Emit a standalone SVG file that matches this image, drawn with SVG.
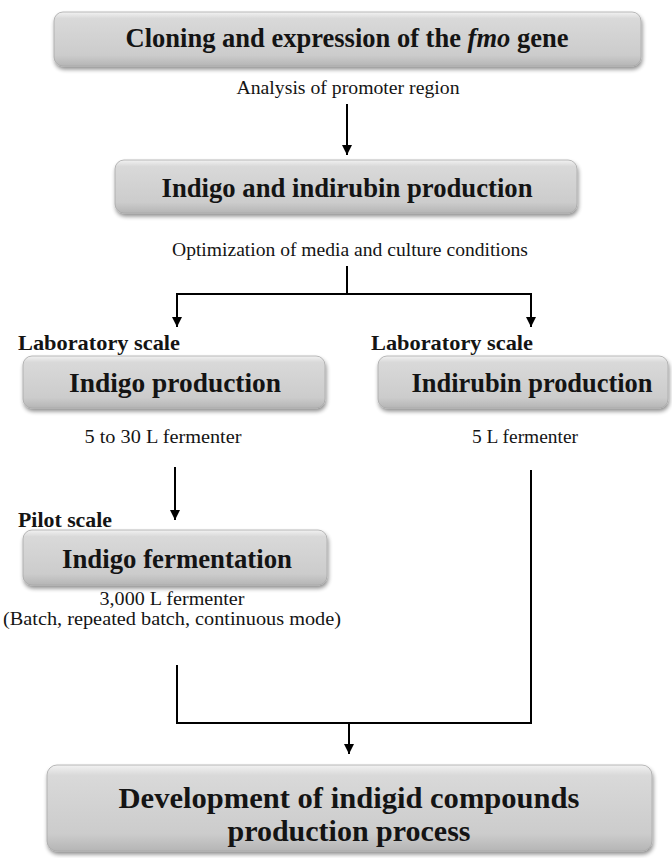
<svg xmlns="http://www.w3.org/2000/svg" width="672" height="858" viewBox="0 0 672 858">
<defs>
<linearGradient id="boxg" x1="0" y1="0" x2="0" y2="1">
<stop offset="0" stop-color="#f2f2f2"/>
<stop offset="0.12" stop-color="#d9d9d9"/>
<stop offset="0.8" stop-color="#cccccc"/>
<stop offset="1" stop-color="#b5b5b5"/>
</linearGradient>
<filter id="sh" x="-5%" y="-20%" width="110%" height="150%">
<feGaussianBlur in="SourceAlpha" stdDeviation="2"/>
<feOffset dx="1" dy="3" result="b"/>
<feComponentTransfer><feFuncA type="linear" slope="0.45"/></feComponentTransfer>
<feMerge><feMergeNode/><feMergeNode in="SourceGraphic"/></feMerge>
</filter>
<marker id="ah" viewBox="0 0 10 10" refX="10" refY="5" markerWidth="5" markerHeight="5" markerUnits="strokeWidth" orient="auto">
<path d="M0,0 L10,5 L0,10 z" fill="#000"/>
</marker>
</defs>
<style>
.box{fill:url(#boxg);stroke:#a8a8a8;stroke-width:0.8;filter:url(#sh)}
text{font-family:'Liberation Serif','Times New Roman',serif;fill:#141414}
.t{font-weight:bold;text-anchor:middle}
.big{font-size:26.5px}
.huge{font-size:30px}
.lab{font-weight:bold;font-size:21px}
.n{font-size:19.5px;text-anchor:middle}
.c{fill:none;stroke:#000;stroke-width:2}
</style>
<rect width="672" height="858" fill="#fff"/>

<g id="cloning">
<rect class="box" x="54" y="12" width="587" height="54" rx="9"/>
<text class="t big" x="347" y="47" textLength="443" lengthAdjust="spacingAndGlyphs">Cloning and expression of the <tspan font-style="italic">fmo</tspan> gene</text>
</g>
<text class="n" x="348" y="94" textLength="223" lengthAdjust="spacingAndGlyphs">Analysis of promoter region</text>

<g id="indigo-indirubin">
<rect class="box" x="115" y="160" width="462" height="53" rx="9"/>
<text class="t big" x="347" y="197" textLength="371" lengthAdjust="spacingAndGlyphs">Indigo and indirubin production</text>
</g>
<text class="n" x="350" y="256" textLength="356" lengthAdjust="spacingAndGlyphs">Optimization of media and culture conditions</text>

<text class="lab" x="18" y="350" textLength="162" lengthAdjust="spacingAndGlyphs">Laboratory scale</text>
<text class="lab" x="371" y="350" textLength="162" lengthAdjust="spacingAndGlyphs">Laboratory scale</text>

<g id="indigo-production">
<rect class="box" x="23" y="356" width="302" height="52" rx="9"/>
<text class="t big" x="175" y="392" textLength="212" lengthAdjust="spacingAndGlyphs">Indigo production</text>
</g>
<g id="indirubin-production">
<rect class="box" x="378" y="356" width="290" height="52" rx="9"/>
<text class="t big" x="532" y="392" textLength="241" lengthAdjust="spacingAndGlyphs">Indirubin production</text>
</g>
<text class="n" x="163" y="443" textLength="157" lengthAdjust="spacingAndGlyphs">5 to 30 L fermenter</text>
<text class="n" x="525" y="443" textLength="106" lengthAdjust="spacingAndGlyphs">5 L fermenter</text>

<text class="lab" x="18" y="527" textLength="94" lengthAdjust="spacingAndGlyphs">Pilot scale</text>
<g id="indigo-fermentation">
<rect class="box" x="23" y="530" width="304" height="55" rx="9"/>
<text class="t big" x="177" y="568" textLength="230" lengthAdjust="spacingAndGlyphs">Indigo fermentation</text>
</g>
<text class="n" x="172" y="605" textLength="145" lengthAdjust="spacingAndGlyphs">3,000 L fermenter</text>
<text class="n" x="172" y="625" textLength="338" lengthAdjust="spacingAndGlyphs">(Batch, repeated batch, continuous mode)</text>

<g id="development">
<rect class="box" x="47" y="765" width="605" height="86" rx="10"/>
<text class="t huge" x="349" y="808" textLength="461" lengthAdjust="spacingAndGlyphs">Development of indigid compounds</text>
<text class="t huge" x="349" y="841" textLength="243" lengthAdjust="spacingAndGlyphs">production process</text>
</g>

<g id="connectors">
<line class="c" x1="347" y1="104" x2="347" y2="155" marker-end="url(#ah)"/>
<polyline class="c" points="347,266 347,294"/>
<polyline class="c" points="177,294 531,294"/>
<line class="c" x1="177" y1="293" x2="177" y2="327" marker-end="url(#ah)"/>
<line class="c" x1="531" y1="293" x2="531" y2="327" marker-end="url(#ah)"/>
<line class="c" x1="175" y1="467" x2="175" y2="520" marker-end="url(#ah)"/>
<polyline class="c" points="177,665 177,723 531,723 531,470"/>
<line class="c" x1="349" y1="723" x2="349" y2="754" marker-end="url(#ah)"/>
</g>
</svg>
